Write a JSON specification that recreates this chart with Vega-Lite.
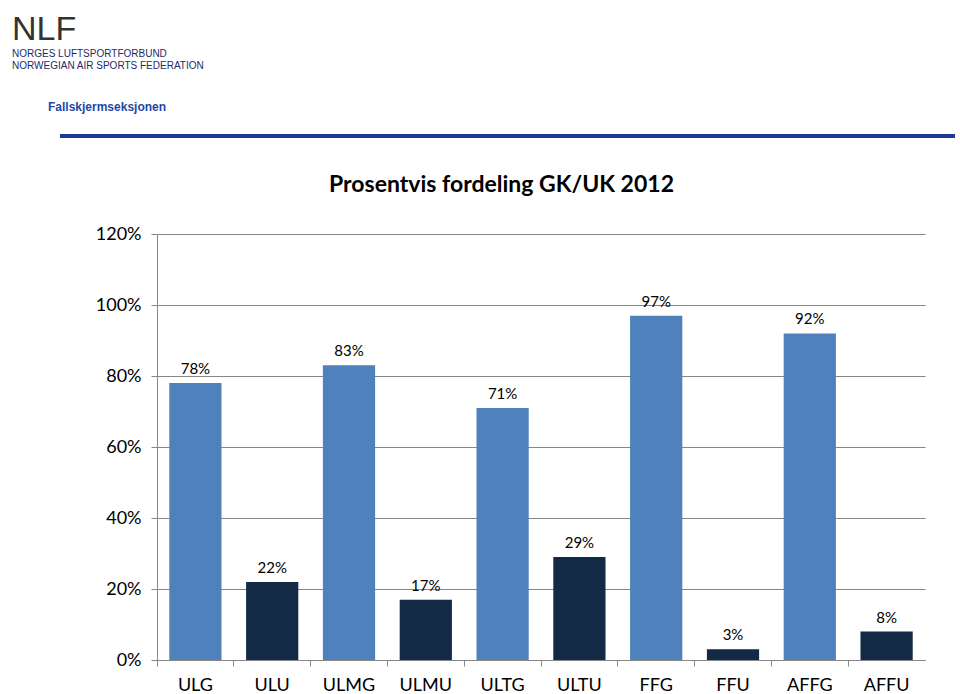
{
  "$schema": "https://vega.github.io/schema/vega-lite/v6.json",
  "background": "white",
  "padding": {"left": 12, "top": 13, "right": 5, "bottom": 0},
  "config": {"font": "Lato", "view": {"stroke": null}},
  "title": {
    "text": "NLF",
    "subtitle": ["NORGES LUFTSPORTFORBUND", "NORWEGIAN AIR SPORTS FEDERATION"],
    "anchor": "start",
    "font": "Liberation Sans",
    "fontSize": 34,
    "fontWeight": "normal",
    "color": "#333333",
    "subtitleFont": "Liberation Sans",
    "subtitleFontSize": 10,
    "subtitleColor": "#1d2b6b",
    "subtitlePadding": 2,
    "offset": 30
  },
  "spacing": 36,
  "vconcat": [
    {
      "width": 895,
      "height": 4,
      "view": {"fill": "#1b3a94", "stroke": null},
      "title": {
        "text": "Fallskjermseksjonen",
        "anchor": "start",
        "dx": 36,
        "font": "Liberation Sans",
        "fontSize": 12,
        "fontWeight": "bold",
        "color": "#2148a8",
        "offset": 20
      },
      "data": {"values": []},
      "mark": "text",
      "encoding": {
        "y": {
          "datum": 0,
          "type": "quantitative",
          "axis": {"labels": false, "ticks": false, "domain": false, "grid": false, "title": null, "minExtent": 48, "maxExtent": 48}
        }
      }
    },
    {
      "width": 865,
      "height": 426,
      "title": {
        "text": "Prosentvis fordeling GK/UK 2012",
        "font": "Lato",
        "fontSize": 23,
        "fontWeight": "bold",
        "color": "#000000",
        "anchor": "middle",
        "dx": 9,
        "offset": 28
      },
      "data": {
        "values": [
          {"kategori": "ULG", "andel": 0.78, "gruppe": "G"},
          {"kategori": "ULU", "andel": 0.22, "gruppe": "U"},
          {"kategori": "ULMG", "andel": 0.83, "gruppe": "G"},
          {"kategori": "ULMU", "andel": 0.17, "gruppe": "U"},
          {"kategori": "ULTG", "andel": 0.71, "gruppe": "G"},
          {"kategori": "ULTU", "andel": 0.29, "gruppe": "U"},
          {"kategori": "FFG", "andel": 0.97, "gruppe": "G"},
          {"kategori": "FFU", "andel": 0.03, "gruppe": "U"},
          {"kategori": "AFFG", "andel": 0.92, "gruppe": "G"},
          {"kategori": "AFFU", "andel": 0.08, "gruppe": "U"}
        ]
      },
      "encoding": {
        "x": {
          "field": "kategori",
          "type": "nominal",
          "sort": null,
          "scale": {"range": [97, 865], "paddingInner": 0.32, "paddingOuter": 0.16}
        },
        "y": {
          "field": "andel",
          "type": "quantitative",
          "scale": {"domain": [0, 1.2]},
          "axis": {
            "title": null,
            "offset": -97,
            "values": [0, 0.2, 0.4, 0.6, 0.8, 1.0, 1.2],
            "format": ".0%",
            "labelFont": "Lato",
            "labelFontSize": 18,
            "labelColor": "#000000",
            "labelPadding": 10,
            "tickSize": 6,
            "tickColor": "#868686",
            "domainColor": "#868686",
            "gridColor": "#868686",
            "gridWidth": 1
          }
        }
      },
      "layer": [
        {
          "mark": {"type": "bar"},
          "encoding": {
            "x": {
              "field": "kategori",
              "type": "nominal",
              "sort": null,
              "axis": {
                "title": null,
                "orient": "bottom",
                "labels": false,
                "bandPosition": -0.235,
                "tickSize": 6,
                "tickColor": "#868686",
                "domainColor": "#868686",
                "grid": false
              }
            },
            "color": {
              "field": "gruppe",
              "type": "nominal",
              "scale": {"domain": ["G", "U"], "range": ["#4f81bd", "#132a46"]},
              "legend": null
            }
          }
        },
        {
          "mark": {"type": "text", "baseline": "bottom", "dy": -6, "fontSize": 15, "font": "Lato", "color": "#000000"},
          "encoding": {
            "x": {
              "field": "kategori",
              "type": "nominal",
              "sort": null,
              "axis": {
                "title": null,
                "orient": "bottom",
                "labelAngle": 0,
                "ticks": false,
                "domain": false,
                "grid": false,
                "labelFont": "Lato",
                "labelFontSize": 18,
                "labelColor": "#000000",
                "labelPadding": 16
              }
            },
            "text": {"field": "andel", "type": "quantitative", "format": ".0%"}
          }
        }
      ],
      "resolve": {"axis": {"x": "independent"}}
    }
  ]
}
